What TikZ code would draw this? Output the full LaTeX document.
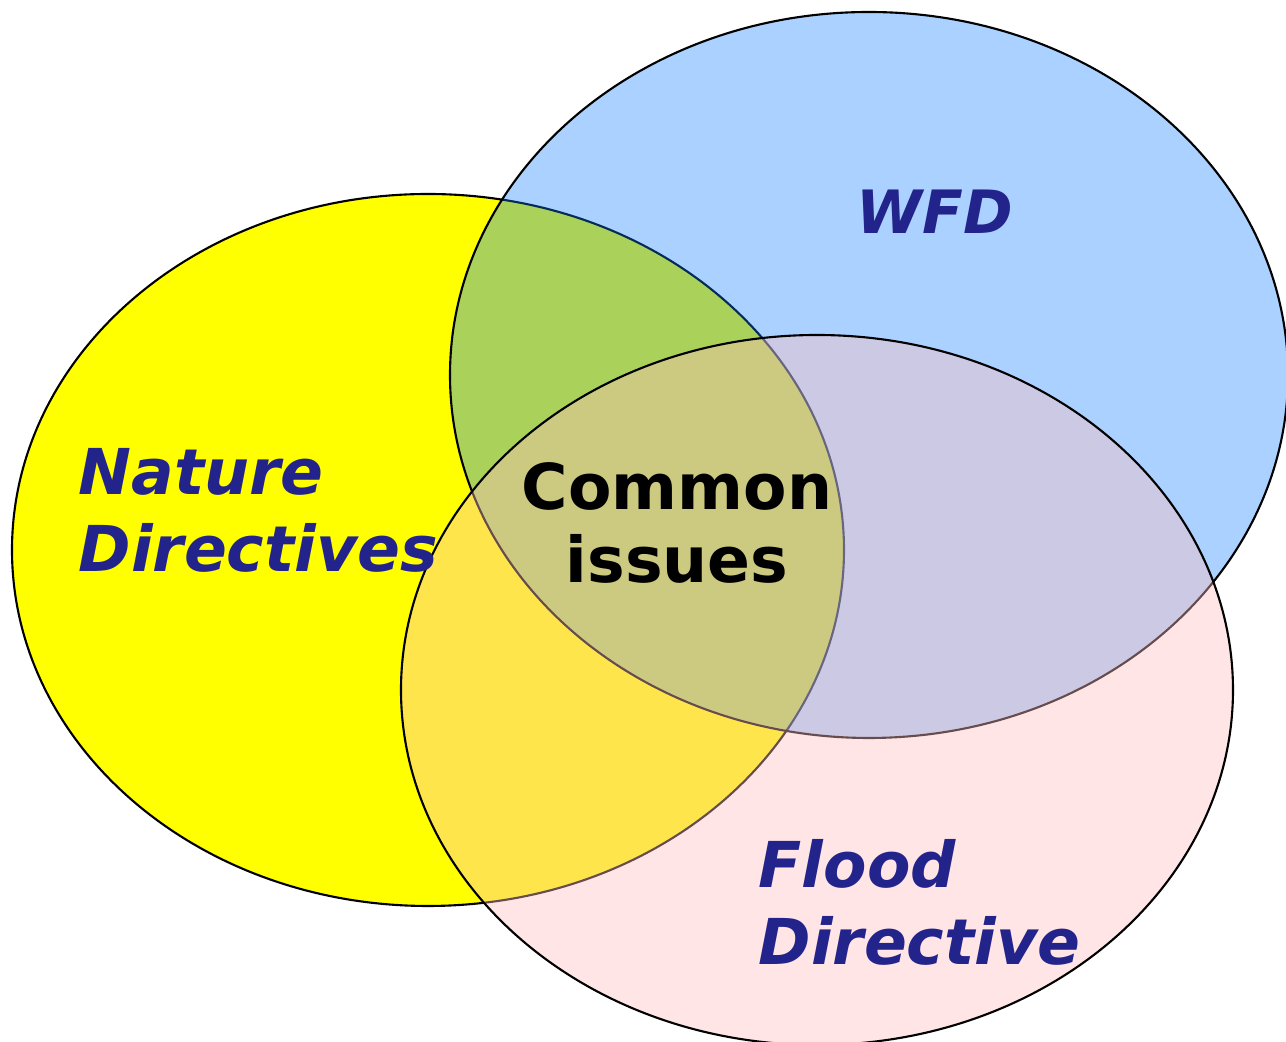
\documentclass[tikz,border=0pt]{standalone}
\usepackage{fontspec}
\usepackage{xcolor}
\usepackage{tikz}
\setmainfont{DejaVu Sans}
\definecolor{natyellow}{RGB}{255,255,0}
\definecolor{wfdblue}{RGB}{12,126,255}
\definecolor{floodpink}{RGB}{255,190,190}
\definecolor{labelnavy}{RGB}{35,35,140}

\begin{document}
\begin{tikzpicture}[
    set/.style={draw=black, line width=0.6pt},
    label/.style={inner sep=0pt, text=labelnavy, font=\fontsize{18}{21.9}\selectfont\bfseries\itshape},
    common/.style={inner sep=0pt, align=center, font=\fontsize{18}{20.8}\selectfont\bfseries}
]
\clip (0,0) rectangle (12.86,10.42);
\fill[white] (0,0) rectangle (12.86,10.42);

% the three directives
\draw[set, fill=natyellow] (4.28,4.92) ellipse [x radius=4.16, y radius=3.56];
\draw[set, fill=wfdblue, fill opacity=0.35] (8.69,6.67) ellipse [x radius=4.19, y radius=3.63];
\draw[set, fill=floodpink, fill opacity=0.4] (8.17,3.52) ellipse [x radius=4.16, y radius=3.55];

\node[label, align=left, anchor=west] (nature) at (0.78,5.32) {Nature\\Directives};
\node[label, font=\fontsize{17}{20}\selectfont\bfseries\itshape] (wfd) at (9.35,8.30) {WFD};
\node[label, align=left, anchor=west] (flood) at (7.58,1.40) {Flood\\Directive};
\node[common] (issues) at (6.77,5.19) {Common\\issues};
\end{tikzpicture}
\end{document}
